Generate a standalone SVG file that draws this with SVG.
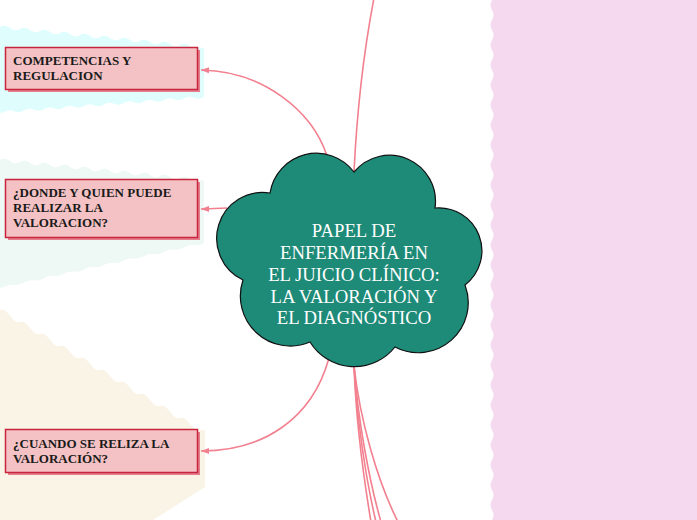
<svg xmlns="http://www.w3.org/2000/svg" width="697" height="520" viewBox="0 0 697 520">
<defs>
<style>
.bg{stroke:none}
.box{fill:#f4c2c4;stroke:#c8243c;stroke-width:1.5}
.shadow{fill:#e57f8e;stroke:none}
.lbl{font-family:"Liberation Serif",serif;font-weight:bold;font-size:13px;fill:#1a1a1a}
.conn{fill:none;stroke:#f2808f;stroke-width:1.6}
.cloud{fill:#1e8a78;stroke:#111;stroke-width:1.2}
.ctext{font-family:"Liberation Serif",serif;font-size:18.7px;fill:#ffffff;text-anchor:middle}
</style>
<marker id="arr" markerWidth="9" markerHeight="8" refX="8" refY="4" orient="auto" markerUnits="userSpaceOnUse">
<path d="M0,1 L8,4 L0,7 Z" fill="#f2808f"/>
</marker>
</defs>
<rect width="697" height="520" fill="#ffffff"/>
<g id="backgrounds">
<path class="bg" fill="#f5d9ef" d="M697,0 L492,0 q-3,5 0,10 t0,10 t0,10 t0,10 t0,10 t0,10 t0,10 t0,10 t0,10 t0,10 t0,10 t0,10 t0,10 t0,10 t0,10 t0,10 t0,10 t0,10 t0,10 t0,10 t0,10 t0,10 t0,10 t0,10 t0,10 t0,10 t0,10 t0,10 t0,10 t0,10 t0,10 t0,10 t0,10 t0,10 t0,10 t0,10 t0,10 t0,10 t0,10 t0,10 t0,10 t0,10 t0,10 t0,10 t0,10 t0,10 t0,10 t0,10 t0,10 t0,10 t0,10 t0,10 L697,520 Z"/>
<path class="bg" fill="#e0fdfd" d="M0,27 q5,-3 10,1 t10,1 t10,1 t10,1 t10,1 t10,1 t10,1 t10,1 t10,1 t10,1 t10,1 t10,1 t10,1 t10,1 t10,1 t10,1 t10,1 t10,1 t10,1 t10,1 L204,49 L204,97 q-5,3 -10,0.75 t-10,0.75 t-10,0.75 t-10,0.75 t-10,0.75 t-10,0.75 t-10,0.75 t-10,0.75 t-10,0.75 t-10,0.75 t-10,0.75 t-10,0.75 t-10,0.75 t-10,0.75 t-10,0.75 t-10,0.75 t-10,0.75 t-10,0.75 t-10,0.75 t-10,0.75 L0,113 Z"/>
<path class="bg" fill="#eef8f4" d="M0,160 q5,-3 10,1 t10,1 t10,1 t10,1 t10,1 t10,1 t10,1 t10,1 t10,1 t10,1 t10,1 t10,1 t10,1 t10,1 t10,1 t10,1 t10,1 t10,1 t10,1 t10,1 L204,181 L204,243 q-5,3 -10,2.2 t-10,2.2 t-10,2.2 t-10,2.2 t-10,2.2 t-10,2.2 t-10,2.2 t-10,2.2 t-10,2.2 t-10,2.2 t-10,2.2 t-10,2.2 t-10,2.2 t-10,2.2 t-10,2.2 t-10,2.2 t-10,2.2 t-10,2.2 t-10,2.2 t-10,2.2 L0,288 Z"/>
<path class="bg" fill="#f9f4e6" d="M0,310 q4,-2 10,6 t10,6 t10,6 t10,6 t10,6 t10,6 t10,6 t10,6 t10,6 t10,6 t10,6 t10,6 t10,6 t10,6 t10,6 t10,6 t10,6 t10,6 t10,6 t10,6 L205,430 L205,487 L153,520 L0,520 Z"/>
</g>
<g id="connectors">
<path class="conn" d="M327,156 C312,110 262,71 201,70" marker-end="url(#arr)"/>
<path class="conn" d="M227,208 C218,208 210,209 201,209" marker-end="url(#arr)"/>
<path class="conn" d="M329,358 C312,420 262,451 201,451" marker-end="url(#arr)"/>
<path class="conn" d="M354,172 C357,110 364,50 374,-2"/>
<path class="conn" d="M354,366 C356,420 364,480 371,522"/>
<path class="conn" d="M354,366 C357,420 366,480 376,522"/>
<path class="conn" d="M354,366 C358,420 369,480 381,522"/>
<path class="conn" d="M354,366 C360,420 377,480 398,522"/>
</g>
<g id="node-center">
<path class="cloud" d="M270,193 A47 47 0 0 1 354,172 A46 46 0 0 1 435,208 A43 43 0 0 1 465,285 A50 50 0 0 1 395,347 A52 52 0 0 1 310,342 A50 50 0 0 1 243,280 A46 46 0 0 1 270,193 Z"/>
<text class="ctext" x="354" y="237">PAPEL DE</text>
<text class="ctext" x="354" y="259">ENFERMERÍA EN</text>
<text class="ctext" x="354" y="281">EL JUICIO CLÍNICO:</text>
<text class="ctext" x="354" y="303">LA VALORACIÓN Y</text>
<text class="ctext" x="354" y="324">EL DIAGNÓSTICO</text>
</g>
<g id="node-competencias">
<rect class="shadow" x="8" y="50" width="192" height="42"/>
<rect class="box" x="5.5" y="47.5" width="192" height="42"/>
<text class="lbl" x="13" y="65">COMPETENCIAS Y</text>
<text class="lbl" x="13" y="80">REGULACION</text>
</g>
<g id="node-donde">
<rect class="shadow" x="8" y="182" width="192" height="58"/>
<rect class="box" x="5.5" y="179.5" width="192" height="58"/>
<text class="lbl" x="13" y="197">¿DONDE Y QUIEN PUEDE</text>
<text class="lbl" x="13" y="212">REALIZAR LA</text>
<text class="lbl" x="13" y="227">VALORACION?</text>
</g>
<g id="node-cuando">
<rect class="shadow" x="8" y="432" width="192" height="43"/>
<rect class="box" x="5.5" y="429.5" width="192" height="43"/>
<text class="lbl" x="13" y="448">¿CUANDO SE RELIZA LA</text>
<text class="lbl" x="13" y="463">VALORACIÓN?</text>
</g>
</svg>
